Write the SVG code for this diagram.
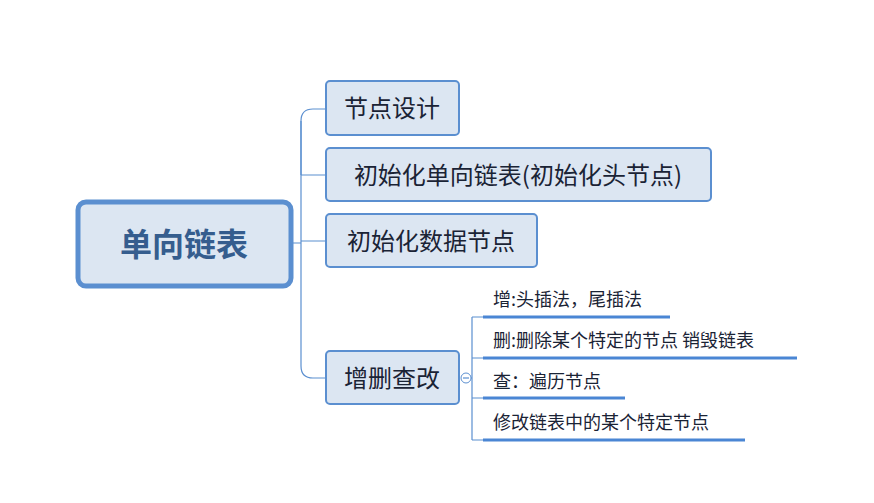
<svg xmlns="http://www.w3.org/2000/svg" width="874" height="503" viewBox="0 0 874 503">
<style>
.box{fill:#dce6f2;stroke:#5b8fd0;stroke-width:2}
.t{font-family:"Microsoft YaHei","Noto Sans CJK SC",sans-serif;fill:#1a2335}
.c{fill:none;stroke:#5b8fd0;stroke-width:1.2}
.u{stroke:#4a86d4;stroke-width:3}
</style>
<rect width="874" height="503" fill="#fff"/>
<g id="connectors">
<path class="c" d="M291 243H301M301 243V121Q301 109 313 109H326M301 175Q301 175 326 175M301 175V175M301 243V366Q301 378 313 378H326M301 241H326"/>
<path class="c" d="M301 121V175"/>
<circle cx="466" cy="378" r="5" fill="#fff" stroke="#5b8fd0" stroke-width="1"/>
<path class="c" d="M463 378H469" stroke-width="1"/>
<path class="c" d="M471 378H472M472 317V440M472 317H483M472 358H483M472 398H483M472 440H483"/>
</g>
<g id="root"><rect x="78" y="202" width="213" height="84" rx="8" fill="#dce6f2" stroke="#5b8fd0" stroke-width="5"/>
<text x="184" y="256" text-anchor="middle" class="t" font-size="32" font-weight="bold" style="fill:#355d8e">单向链表</text></g>
<g id="n1"><rect class="box" x="326" y="81" width="133" height="54" rx="4"/><text x="392" y="117" text-anchor="middle" class="t" font-size="24">节点设计</text></g>
<g id="n2"><rect class="box" x="326" y="148" width="385" height="53" rx="4"/><text x="518" y="184" text-anchor="middle" class="t" font-size="24">初始化单向链表(初始化头节点)</text></g>
<g id="n3"><rect class="box" x="326" y="214" width="211" height="53" rx="4"/><text x="431" y="250" text-anchor="middle" class="t" font-size="24">初始化数据节点</text></g>
<g id="n4"><rect class="box" x="326" y="351" width="133" height="53" rx="4"/><text x="392" y="387" text-anchor="middle" class="t" font-size="24">增删查改</text></g>
<g id="s1"><text x="493" y="306" class="t" font-size="18">增:头插法，尾插法</text><line class="u" x1="483" y1="317" x2="670" y2="317"/></g>
<g id="s2"><text x="493" y="347" class="t" font-size="18">删:删除某个特定的节点 销毁链表</text><line class="u" x1="483" y1="358" x2="797" y2="358"/></g>
<g id="s3"><text x="493" y="388" class="t" font-size="18">查：遍历节点</text><line class="u" x1="483" y1="398" x2="625" y2="398"/></g>
<g id="s4"><text x="493" y="429" class="t" font-size="18">修改链表中的某个特定节点</text><line class="u" x1="483" y1="440" x2="745" y2="440"/></g>
</svg>
